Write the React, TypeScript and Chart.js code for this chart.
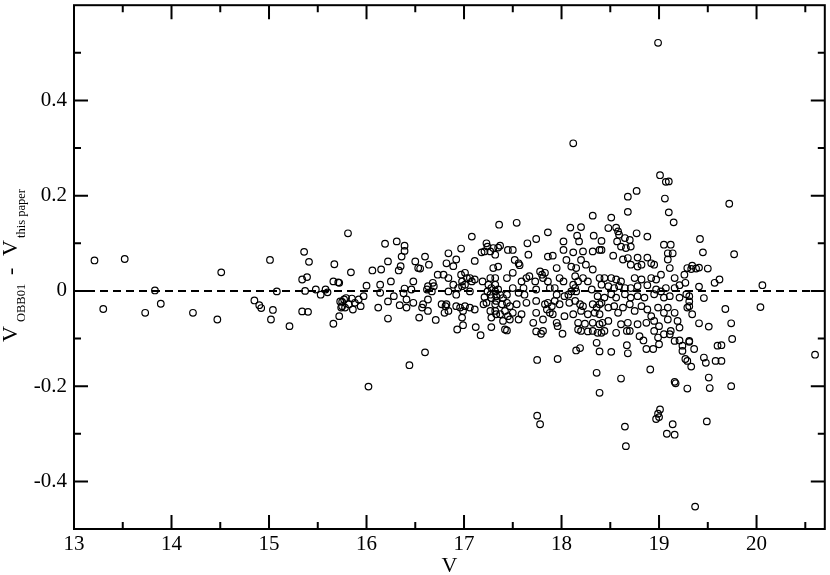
import React, { useEffect, useRef } from "react";
import { Chart, registerables } from "chart.js";

Chart.register(...registerables);

const FONT = "'Liberation Serif', 'Times New Roman', Times, serif";

// ---- tick definitions ----
const X_MAJOR = [13, 14, 15, 16, 17, 18, 19, 20];
const X_MINOR = [13.5, 14.5, 15.5, 16.5, 17.5, 18.5, 19.5, 20.5];
const Y_MAJOR = [-0.4, -0.2, 0, 0.2, 0.4];
const Y_MINOR = [-0.3, -0.1, 0.1, 0.3, 0.5];
const Y_LABELS = ["-0.4", "-0.2", "0", "0.2", "0.4"];
const X_LABELS = ["13", "14", "15", "16", "17", "18", "19", "20"];

// ---- data (V, V_OBB01 - V_this paper) ----
const V_BRIGHT = [
  13.21, 13.30, 13.52, 13.83, 13.73, 13.89, 14.22, 14.51, 14.47, 14.85,
  14.90, 14.92, 15.04, 15.02, 15.01, 15.08, 15.21, 15.36, 15.41, 15.34,
  15.39, 15.37, 15.34, 15.40, 15.48, 15.53, 15.58, 15.60, 15.67, 15.66,
  15.71, 15.66, 15.72, 15.75, 15.74,
];
const DV_BRIGHT = [
  0.064, -0.038, 0.067, 0.001, -0.046, -0.027, -0.046, 0.039, -0.060, -0.020,
  -0.030, -0.036, -0.040, -0.060, 0.065, -0.001, -0.074, 0.082, 0.061, 0.024,
  0.029, 0.000, -0.043, -0.044, 0.003, -0.008, 0.003, -0.003, 0.056, 0.020,
  0.018, -0.069, -0.053, -0.023, -0.035,
];

const V_MID1 = [
  15.81, 15.84, 15.72, 15.73, 15.77, 15.79, 15.75, 15.78, 15.82, 15.85,
  15.88, 15.92, 15.94, 15.86, 15.97, 16.00, 16.06, 16.15, 16.22, 16.19,
  16.25, 16.14, 16.14, 16.12, 16.22, 16.22, 16.28, 16.31, 16.39, 16.39,
  16.36, 16.35, 16.33, 16.34, 16.39, 16.38, 16.41, 16.41, 16.48, 16.46,
  16.48, 16.50, 16.53, 16.55, 16.60, 16.64, 16.54, 16.60, 16.44, 16.02,
  16.58, 16.57, 16.63, 16.63, 16.62, 16.63, 16.68, 16.69, 16.67, 16.71,
];
const DV_MID1 = [
  0.121, 0.039, 0.017, -0.022, -0.018, -0.015, -0.032, -0.035, -0.028, -0.016,
  -0.025, -0.018, -0.032, -0.039, -0.011, 0.011, 0.043, 0.045, 0.062, 0.099,
  0.020, 0.013, -0.004, -0.035, -0.022, -0.058, -0.011, 0.104, 0.095, 0.084,
  0.072, 0.052, 0.043, -0.030, 0.005, -0.005, -0.018, -0.035, -0.025, 0.003,
  0.020, 0.062, 0.048, 0.047, 0.072, 0.055, -0.056, -0.129, -0.156, -0.201,
  -0.028, -0.035, -0.018, -0.042, 0.003, 0.010, 0.017, 0.010, -0.001, -0.061,
];

const V_MID2 = [
  16.73, 16.79, 16.77, 16.81, 16.80, 16.84, 16.82, 16.84, 16.92, 16.89,
  16.82, 16.97, 16.84, 16.89, 16.84, 16.92, 16.94, 16.97, 17.01, 17.03,
  16.98, 17.06, 17.08, 17.11, 16.98, 17.01, 17.06, 16.92, 16.96, 17.01,
  16.99, 16.98, 16.93, 16.99, 17.06, 17.11, 17.08, 17.11, 17.12, 17.17,
  17.19, 17.21, 17.23, 17.20, 17.23, 17.24, 17.21, 17.18, 17.27, 17.30,
  17.32, 17.36, 17.30, 17.32, 17.27, 17.25, 17.28, 17.32, 17.27, 17.24,
  17.28, 17.33, 17.32, 17.27, 17.28, 17.28, 17.33,
];
const DV_MID2 = [
  0.034, 0.034, -0.028, -0.032, -0.046, -0.042, -0.028, 0.079, 0.066, 0.052,
  0.058, 0.089, 0.027, 0.013, -0.001, -0.008, 0.006, 0.034, 0.038, 0.027,
  0.020, 0.027, 0.020, 0.024, 0.010, 0.013, -0.001, -0.032, -0.035, -0.032,
  -0.042, -0.056, -0.081, -0.072, -0.035, -0.039, 0.114, 0.063, -0.076, -0.093,
  0.020, -0.013, -0.025, -0.028, 0.100, 0.093, 0.083, 0.081, 0.083, 0.090,
  0.076, 0.139, 0.048, 0.027, 0.027, 0.013, 0.006, -0.001, -0.008, -0.001,
  -0.015, -0.011, -0.028, -0.042, -0.056, -0.076, -0.049,
];

const V_FAINT1 = [
  17.54, 17.86, 17.74, 17.65, 18.09, 18.20, 18.32, 18.02, 18.16, 18.18,
  18.33, 18.41, 17.35, 17.37, 17.45, 17.50, 17.66, 17.86, 17.91, 18.02,
  18.12, 18.22, 18.32, 18.39, 18.20, 18.25, 18.32, 17.52, 17.56, 17.57,
  17.35, 17.50, 17.44, 17.78, 17.80, 17.83, 17.81, 17.95, 18.05, 18.10,
  18.15, 17.64, 17.67, 17.59, 17.73, 17.74, 17.86, 17.88, 17.98, 18.02,
  18.14, 18.17, 18.22, 18.27, 18.39, 18.41, 17.32, 17.35, 17.37, 17.40,
  17.44, 17.50, 17.56, 17.61, 17.62, 17.93, 17.95, 18.03, 18.07, 18.12,
  18.14, 18.15, 18.10, 18.31, 17.33, 17.39, 17.44, 17.47, 17.54, 17.64,
  17.74, 17.83, 17.86, 17.90, 17.93, 17.98, 18.08, 18.14, 18.19, 18.22,
  18.32, 18.36, 18.41, 17.32, 17.37, 17.42, 17.45, 17.50, 17.59, 17.74,
  17.85, 17.88, 17.91, 18.03, 18.12, 18.20, 18.27, 18.34, 18.39, 17.40,
  17.47, 17.56, 17.71, 17.81, 17.95, 17.96, 18.17, 18.24, 18.32, 18.39,
  17.42, 17.44, 17.74, 17.79, 17.81, 18.01, 18.17, 18.20, 18.27, 18.32,
  18.37, 18.36, 18.39, 18.15, 18.19, 17.75, 17.96, 18.36, 18.39, 17.75,
  17.78, 18.12, 18.51,
];
const DV_FAINT1 = [
  0.143, 0.123, 0.109, 0.100, 0.133, 0.134, 0.158, 0.104, 0.116, 0.104,
  0.116, 0.105, 0.091, 0.095, 0.086, 0.086, 0.076, 0.072, 0.074, 0.086,
  0.081, 0.083, 0.083, 0.086, 0.065, 0.055, 0.045, 0.065, 0.058, 0.054,
  0.051, 0.038, 0.027, 0.041, 0.034, 0.038, 0.027, 0.048, 0.065, 0.051,
  0.048, 0.027, 0.031, 0.020, 0.020, 0.003, 0.020, 0.006, 0.027, 0.020,
  0.031, 0.020, 0.027, 0.020, 0.027, 0.013, 0.013, 0.003, -0.008, -0.015,
  -0.008, 0.006, -0.004, 0.006, -0.008, 0.006, -0.008, -0.011, -0.008, 0.013,
  0.006, -0.001, -0.001, 0.003, -0.021, -0.028, -0.025, -0.032, -0.028, -0.025,
  -0.021, -0.028, -0.025, -0.032, -0.021, -0.028, -0.025, -0.021, -0.028, -0.032,
  -0.028, -0.035, -0.025, -0.042, -0.049, -0.042, -0.053, -0.046, -0.049, -0.046,
  -0.039, -0.046, -0.049, -0.053, -0.049, -0.042, -0.049, -0.046, -0.049, -0.063,
  -0.060, -0.060, -0.067, -0.060, -0.067, -0.074, -0.067, -0.069, -0.067, -0.070,
  -0.081, -0.083, -0.085, -0.090, -0.084, -0.090, -0.081, -0.084, -0.085, -0.084,
  -0.088, -0.109, -0.127, -0.125, -0.120, -0.145, -0.143, -0.172, -0.214, -0.262,
  -0.280, 0.310, -0.128,
];

const V_FAINT2 = [
  19.01, 19.07, 19.10, 19.06, 19.10, 19.15, 18.68, 18.77, 18.68, 18.51,
  18.48, 18.56, 18.58, 18.59, 18.65, 18.70, 18.77, 18.88, 18.41, 18.57,
  18.61, 18.66, 18.71, 19.05, 19.12, 19.09, 19.14, 18.53, 18.63, 18.68,
  18.78, 18.88, 18.71, 18.78, 18.82, 18.92, 18.95, 19.09, 19.11, 18.44,
  18.51, 18.56, 18.61, 18.75, 18.82, 18.92, 18.97, 19.02, 19.16, 19.26,
  19.29, 18.48, 18.54, 18.59, 18.65, 18.71, 18.78, 18.88, 18.97, 19.02,
  19.07, 19.16, 19.21, 19.27, 18.37, 18.44, 18.51, 18.56, 18.65, 18.71,
  18.78, 18.85, 18.95, 19.05, 19.11, 19.21, 19.28, 18.39, 18.48, 18.54,
  18.58, 18.63, 18.70, 18.75, 18.82, 18.88, 18.92, 18.99, 19.05, 19.09,
  19.16, 19.29, 18.42, 18.48, 18.61, 18.68, 18.78, 18.87, 18.95, 19.00,
  19.09, 19.12, 19.19, 19.21, 18.41, 18.44, 18.56, 18.70, 18.80, 18.95,
  18.99, 19.05, 19.16, 19.21, 19.31, 18.68, 18.87, 18.94, 19.00, 19.24,
  19.27, 19.36,
];
const DV_FAINT2 = [
  0.243, 0.229, 0.230, 0.194, 0.165, 0.144, 0.198, 0.210, 0.166, 0.154,
  0.132, 0.133, 0.125, 0.118, 0.111, 0.107, 0.121, 0.114, 0.086, 0.104,
  0.093, 0.090, 0.093, 0.097, 0.097, 0.079, 0.079, 0.074, 0.066, 0.069,
  0.070, 0.070, 0.055, 0.051, 0.055, 0.058, 0.055, 0.066, 0.048, 0.027,
  0.027, 0.024, 0.020, 0.027, 0.024, 0.027, 0.024, 0.034, 0.027, 0.034,
  0.048, 0.010, 0.006, 0.010, 0.006, 0.006, 0.010, 0.012, 0.003, -0.001,
  0.006, 0.006, 0.012, 0.017, -0.011, -0.014, -0.007, -0.014, -0.007, -0.014,
  -0.011, -0.014, -0.007, -0.014, -0.011, -0.014, -0.007, -0.028, -0.035, -0.032,
  -0.046, -0.035, -0.028, -0.042, -0.032, -0.039, -0.053, -0.035, -0.046, -0.035,
  -0.046, -0.035, -0.067, -0.063, -0.070, -0.067, -0.070, -0.067, -0.063, -0.074,
  -0.060, -0.084, -0.063, -0.077, -0.088, -0.084, -0.088, -0.084, -0.095, -0.084,
  -0.098, -0.091, -0.105, -0.104, -0.105, -0.131, -0.122, -0.122, -0.112, -0.126,
  -0.143, -0.122,
];

const V_SCATTER = [
  18.61, 18.67, 18.65, 18.66, 18.91, 19.01, 18.99, 19.00, 18.97, 19.08,
  19.16, 19.14, 19.16, 19.17, 19.37, 19.49, 19.33, 19.24, 18.67, 18.84,
  19.11, 18.99,
];
const DV_SCATTER = [
  -0.184, -0.114, -0.285, -0.326, -0.165, -0.249, -0.258, -0.265, -0.269, -0.300,
  -0.302, -0.280, -0.191, -0.194, -0.453, -0.274, -0.159, -0.115, -0.084, -0.104,
  -0.091, 0.521,
];

const V_FAINTEST = [
  19.72, 19.42, 19.45, 19.77, 19.34, 19.38, 19.41, 19.33, 19.50, 19.62,
  19.57, 19.41, 20.06, 20.04, 19.46, 19.31, 19.31, 19.31, 19.34, 19.68,
  19.41, 19.51, 19.74, 19.75, 19.60, 19.64, 19.31, 19.46, 19.48, 19.58,
  19.64, 19.29, 19.51, 19.52, 19.74, 19.29, 20.60,
];
const DV_FAINTEST = [
  0.183, 0.109, 0.081, 0.077, 0.053, 0.047, 0.049, 0.046, 0.047, 0.024,
  0.017, 0.009, 0.012, -0.034, -0.015, -0.011, -0.022, -0.032, -0.049, -0.038,
  -0.068, -0.075, -0.068, -0.101, -0.115, -0.114, -0.107, -0.140, -0.151, -0.147,
  -0.147, -0.147, -0.182, -0.204, -0.200, -0.205, -0.134,
];

const V_ALL = [...V_BRIGHT, ...V_MID1, ...V_MID2, ...V_FAINT1, ...V_FAINT2, ...V_SCATTER, ...V_FAINTEST];
const DV_ALL = [...DV_BRIGHT, ...DV_MID1, ...DV_MID2, ...DV_FAINT1, ...DV_FAINT2, ...DV_SCATTER, ...DV_FAINTEST];

const framePlugin = {
  id: "xmgraceFrame",
  beforeDatasetsDraw(chart: any) {
    const { ctx, chartArea: a, scales } = chart;
    const y0 = scales.y.getPixelForValue(0);
    ctx.save();
    ctx.strokeStyle = "#000";
    ctx.lineWidth = 2;
    ctx.setLineDash([8, 5]);
    ctx.beginPath();
    ctx.moveTo(a.left, y0);
    ctx.lineTo(a.right, y0);
    ctx.stroke();
    ctx.restore();
  },
  afterDraw(chart: any) {
    const { ctx, chartArea: a, scales } = chart;
    const xs = scales.x;
    const ys = scales.y;
    ctx.save();
    ctx.strokeStyle = "#000";
    ctx.lineWidth = 2;
    ctx.setLineDash([]);
    ctx.strokeRect(a.left, a.top, a.right - a.left, a.bottom - a.top);

    const MAJ = 14;
    const MIN = 7;
    ctx.beginPath();
    const xt = (v: number, len: number) => {
      const p = xs.getPixelForValue(v);
      ctx.moveTo(p, a.bottom);
      ctx.lineTo(p, a.bottom - len);
      ctx.moveTo(p, a.top);
      ctx.lineTo(p, a.top + len);
    };
    const yt = (v: number, len: number) => {
      const p = ys.getPixelForValue(v);
      ctx.moveTo(a.left, p);
      ctx.lineTo(a.left + len, p);
      ctx.moveTo(a.right, p);
      ctx.lineTo(a.right - len, p);
    };
    X_MAJOR.forEach((v) => xt(v, MAJ));
    X_MINOR.forEach((v) => xt(v, MIN));
    Y_MAJOR.forEach((v) => yt(v, MAJ));
    Y_MINOR.forEach((v) => yt(v, MIN));
    ctx.stroke();

    // x title
    ctx.fillStyle = "#000";
    ctx.font = `22px ${FONT}`;
    ctx.textAlign = "center";
    ctx.textBaseline = "alphabetic";
    ctx.fillText("V", (a.left + a.right) / 2, 572);

    // y title with subscripts
    ctx.translate(17, 342);
    ctx.rotate(-Math.PI / 2);
    ctx.textAlign = "left";
    const big = `22px ${FONT}`;
    const small = `12.5px ${FONT}`;
    ctx.font = big;
    ctx.fillText("V", 0, 0);
    ctx.font = small;
    ctx.fillText("OBB01", 20, 8);
    ctx.font = big;
    ctx.fillText("-", 67, 0);
    ctx.fillText("V", 86, 0);
    ctx.font = small;
    ctx.fillText("this paper", 104, 8);
    ctx.restore();
  },
};

export default function App() {
  const canvasRef = useRef<HTMLCanvasElement | null>(null);

  useEffect(() => {
    document.body.style.margin = "0";
    const canvas = canvasRef.current;
    if (!canvas) return;
    const points = V_ALL.map((v, i) => ({ x: v, y: DV_ALL[i] }));
    const chart = new Chart(canvas, {
      type: "scatter",
      data: {
        datasets: [
          {
            data: points,
            pointStyle: "circle",
            pointRadius: 3.3,
            pointBorderWidth: 1.2,
            pointBorderColor: "#000",
            pointBackgroundColor: "rgba(0,0,0,0)",
            showLine: false,
          },
        ],
      },
      options: {
        animation: false,
        responsive: false,
        devicePixelRatio: 1,
        events: [],
        layout: { padding: { top: 2, right: 2, left: 0, bottom: 0 } },
        plugins: {
          legend: { display: false },
          tooltip: { enabled: false },
          title: { display: false },
        },
        scales: {
          x: {
            type: "linear",
            min: 13,
            max: 20.7,
            grid: { display: false, drawTicks: false },
            border: { display: false },
            afterBuildTicks: (s: any) => {
              s.ticks = X_MAJOR.map((v) => ({ value: v }));
            },
            afterFit: (s: any) => {
              s.height = 46;
              s.paddingLeft = 0;
              s.paddingRight = 0;
            },
            ticks: {
              font: { family: FONT, size: 21 },
              color: "#000",
              padding: 3,
              maxRotation: 0,
              autoSkip: false,
              callback: (_v: any, i: number) => X_LABELS[i],
            },
          },
          y: {
            type: "linear",
            min: -0.5,
            max: 0.6,
            grid: { display: false, drawTicks: false },
            border: { display: false },
            afterBuildTicks: (s: any) => {
              s.ticks = Y_MAJOR.map((v) => ({ value: v }));
            },
            afterFit: (s: any) => {
              s.width = 74;
              s.paddingTop = 0;
              s.paddingBottom = 0;
            },
            ticks: {
              font: { family: FONT, size: 21 },
              color: "#000",
              padding: 7,
              autoSkip: false,
              callback: (_v: any, i: number) => Y_LABELS[i],
            },
          },
        },
      },
      plugins: [framePlugin],
    } as any);
    return () => chart.destroy();
  }, []);

  return (
    <div style={{ position: "absolute", left: 0, top: 0, width: 830, height: 575 }}>
      <canvas ref={canvasRef} width={830} height={575} style={{ display: "block" }} />
    </div>
  );
}
